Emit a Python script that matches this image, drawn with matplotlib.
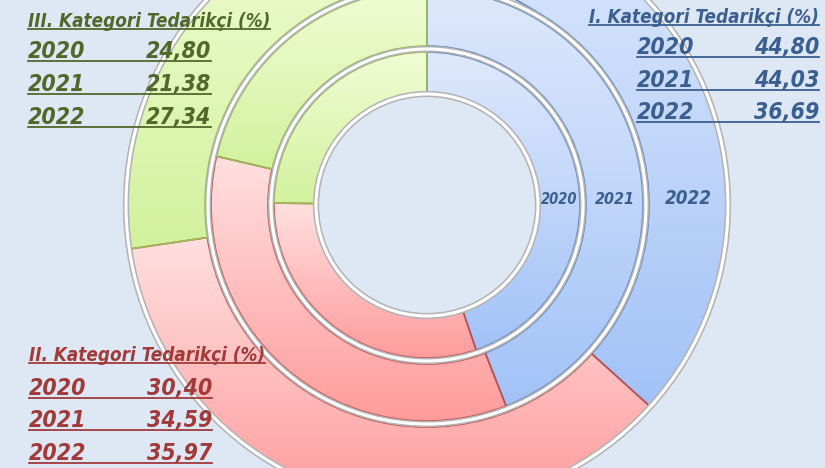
import matplotlib.pyplot as plt
import numpy as np
from matplotlib.patches import Circle
from matplotlib.colors import LinearSegmentedColormap

# Veriler (%)
yillar = ['2020', '2021', '2022']
kat1 = [44.80, 44.03, 36.69]   # I. Kategori
kat2 = [30.40, 34.59, 35.97]   # II. Kategori
kat3 = [24.80, 21.38, 27.34]   # III. Kategori
basliklar = ['I. Kategori Tedarikçi (%)', 'II. Kategori Tedarikçi (%)', 'III. Kategori Tedarikçi (%)']

W, H = 825, 468
fondo = '#dee8f4'
cx, cy = 427, H - 205
# (dis, ic) yaricap: 2020, 2021, 2022
halkalar = [(153, 112), (216, 159), (300, 222)]

renk_ust = ['#dee9fc', '#ffe0e0', '#f1fcd4']
renk_alt = ['#a2c2f7', '#ff9c9c', '#d2f29e']
renk_kenar = ['#6088c2', '#c0504d', '#9bbb59']
renk_yazi = ['#3c5f92', '#a23a3a', '#52682a']

plt.rcParams['font.family'] = ['DejaVu Sans']
yazi = dict(weight='bold', style='italic', stretch='condensed')

fig = plt.figure(figsize=(W / 100, H / 100), dpi=100, facecolor=fondo)
ax = fig.add_axes([0, 0, 1, 1])
ax.set_facecolor(fondo)

for k, (r_dis, r_ic) in enumerate(halkalar):
    valores = [kat1[k], kat2[k], kat3[k]]
    wedges, _ = ax.pie(valores, radius=r_dis, center=(cx, cy), startangle=90, counterclock=False,
                       wedgeprops=dict(width=r_dis - r_ic, linewidth=1.2))
    for j, w in enumerate(wedges):
        w.set_facecolor('none')
        w.set_edgecolor(renk_kenar[j])
        w.set_zorder(3)
        ext = w.get_path().get_extents()
        cmap = LinearSegmentedColormap.from_list('g%d%d' % (k, j), [renk_ust[j], renk_alt[j]])
        grad = np.linspace(0, 1, 256).reshape(-1, 1)
        im = ax.imshow(grad, extent=(ext.x0, ext.x1, ext.y0, ext.y1), origin='upper', cmap=cmap,
                       aspect='auto', interpolation='bilinear', zorder=1)
        im.set_clip_path(w)

# halkalar arasi beyaz bosluklar
for r in [111, 156, 219, 301]:
    ax.add_patch(Circle((cx, cy), r, fill=False, ec='#b4b4b4', lw=4.5, zorder=4))
    ax.add_patch(Circle((cx, cy), r, fill=False, ec='white', lw=2.2, zorder=5))

ax.set_aspect('auto')
ax.set_xlim(0, W)
ax.set_ylim(0, H)
ax.axis('off')

# halka etiketleri
boy = [10.5, 11.5, 13.5]
for k, (r_dis, r_ic) in enumerate(halkalar):
    ax.text(cx + (r_dis + r_ic) / 2, H - 199, yillar[k], ha='center', va='center',
            fontsize=boy[k], color=renk_yazi[0], zorder=6, **yazi)

renderer = fig.canvas.get_renderer()


def blok(baslik, degerler, renk, x0, x1, y_baslik, y_satir, sag=False):
    if sag:
        t = ax.text(x1, H - y_baslik, baslik, ha='right', va='baseline', fontsize=13.5,
                    color=renk, zorder=7, **yazi)
    else:
        t = ax.text(x0, H - y_baslik, baslik, ha='left', va='baseline', fontsize=13.5,
                    color=renk, zorder=7, **yazi)
    bb = t.get_window_extent(renderer).transformed(ax.transData.inverted())
    ax.plot([bb.x0, bb.x1], [H - y_baslik - 2, H - y_baslik - 2], color=renk, lw=1.3, zorder=7)
    for i, yil in enumerate(yillar):
        y = H - y_satir[i]
        ax.text(x0, y, yil, ha='left', va='baseline', fontsize=16.5, color=renk, zorder=7, **yazi)
        ax.text(x1, y, f'{degerler[i]:.2f}'.replace('.', ','), ha='right', va='baseline',
                fontsize=16.5, color=renk, zorder=7, **yazi)
        ax.plot([x0, x1], [y - 3, y - 3], color=renk, lw=1.3, zorder=7)


blok(basliklar[2], kat3, renk_yazi[2], 28, 211, 27, [58, 91, 124])
blok(basliklar[0], kat1, renk_yazi[0], 637, 819, 23, [54, 87, 119], sag=True)
blok(basliklar[1], kat2, renk_yazi[1], 29, 212, 361, [395, 427, 460])

fig.savefig('out.png', dpi=100, facecolor=fondo)
